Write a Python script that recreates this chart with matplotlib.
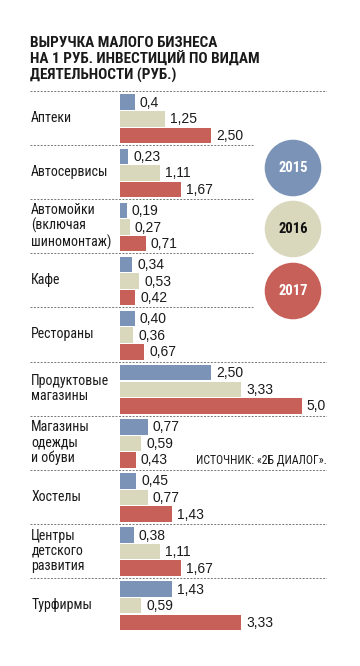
import matplotlib
matplotlib.use("Agg")
import matplotlib.pyplot as plt
from matplotlib import font_manager
from matplotlib.patches import Circle
from matplotlib.transforms import blended_transform_factory

# Data
categories = [
    "Аптеки",
    "Автосервисы",
    "Автомойки\n(включая\nшиномонтаж)",
    "Кафе",
    "Рестораны",
    "Продуктовые\nмагазины",
    "Магазины\nодежды\nи обуви",
    "Хостелы",
    "Центры\nдетского\nразвития",
    "Турфирмы",
]
values_2015 = ["0,4", "0,23", "0,19", "0,34", "0,40", "2,50", "0,77", "0,45", "0,38", "1,43"]
values_2016 = ["1,25", "1,11", "0,27", "0,53", "0,36", "3,33", "0,59", "0,77", "1,11", "0,59"]
values_2017 = ["2,50", "1,67", "0,71", "0,42", "0,67", "5,0", "0,43", "1,43", "1,67", "3,33"]
years = ["2015", "2016", "2017"]

title = "ВЫРУЧКА МАЛОГО БИЗНЕСА\nНА 1 РУБ. ИНВЕСТИЦИЙ ПО ВИДАМ\nДЕЯТЕЛЬНОСТИ (РУБ.)"
source = "ИСТОЧНИК: «2Б ДИАЛОГ»."

COLORS = ["#7a93b6", "#d9d8bc", "#c8605a"]
YEAR_TEXT = ["white", "#111111", "white"]

# Fonts: prefer a narrow face like the newspaper original
available = {f.name for f in font_manager.fontManager.ttflist}
NARROW = next((n for n in ["Liberation Sans Narrow", "Roboto Condensed", "Open Sans Condensed"]
               if n in available), "Liberation Sans")
plt.rcParams["font.family"] = [NARROW, "DejaVu Sans"]
NUM_FONT = ["Liberation Sans", "DejaVu Sans"]

# Layout (pixels of a 360x666 canvas)
W, H = 360, 666
PX_PER_UNIT = 36.33
LEFT, RIGHT, TOP = 30, 327, 91
PITCH = 54.1
BAR_OFF = [11.2, 27.8, 44.4]
BAR_H = 15.5
ZERO_X = 120
SHORT_SEP = {1, 2, 3, 4}
SHORT_END = 253

fig = plt.figure(figsize=(W / 100, H / 100), dpi=100)
n = len(categories)
bottom = TOP + PITCH * n
ax = fig.add_axes([LEFT / W, 1 - bottom / H, (RIGHT - LEFT) / W, (bottom - TOP) / H])
ax.set_xlim(-(ZERO_X - LEFT) / PX_PER_UNIT, (RIGHT - ZERO_X) / PX_PER_UNIT)
ax.set_ylim(PITCH * n, 0)
ax.axis("off")

series = [values_2015, values_2016, values_2017]
for j, vals in enumerate(series):
    nums = [float(v.replace(",", ".")) for v in vals]
    ys = [i * PITCH + BAR_OFF[j] for i in range(n)]
    ax.barh(ys, nums, height=BAR_H, left=0, color=COLORS[j], linewidth=0)
    for y, v, lab in zip(ys, nums, vals):
        ax.text(v + 5 / PX_PER_UNIT, y + 0.5, lab, va="center", ha="left",
                fontsize=10, color="#1a1a1a", family=NUM_FONT)

# dotted separators
for i in range(n):
    xmax = (SHORT_END - LEFT) / (RIGHT - LEFT) if i in SHORT_SEP else 1
    ax.axhline(i * PITCH, 0, xmax, color="#777777", lw=0.7,
               linestyle=(0, (2, 1.5)))

trans = blended_transform_factory(ax.transAxes, ax.transData)
for i, cat in enumerate(categories):
    ax.text(0.004, i * PITCH + PITCH / 2, cat, transform=trans, va="center",
            ha="left", fontsize=10, linespacing=1.1, color="#1a1a1a")

# title and source
fig.text(LEFT / W, 1 - 36 / H, title, va="top", ha="left", fontsize=11,
         fontweight="bold", linespacing=1.1, color="#1a1a1a")
fig.text(RIGHT / W, 1 - 460 / H, source, va="center", ha="right",
         fontsize=8.5, color="#1a1a1a")

# year legend circles
centers = [(293, 168), (293, 229), (293, 291)]
for (cx, cy), year, col, tcol in zip(centers, years, COLORS, YEAR_TEXT):
    c = Circle((cx / 100, (H - cy) / 100), 0.283, transform=fig.dpi_scale_trans,
               facecolor=col, edgecolor="none")
    fig.patches.append(c)
    fig.text(cx / 100, (H - cy) / 100, year, transform=fig.dpi_scale_trans,
             ha="center", va="center", fontsize=10.5, fontweight="bold", color=tcol)

fig.savefig("out.png", dpi=100)
